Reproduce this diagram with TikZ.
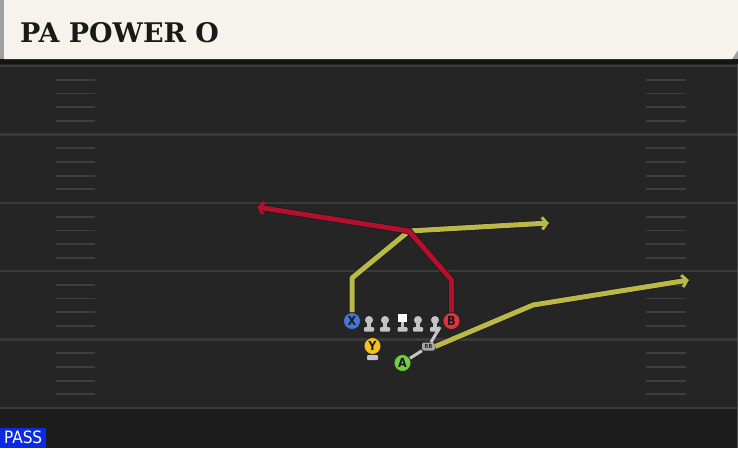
\documentclass[tikz,border=0pt]{standalone}
\usepackage{fontspec}
\usetikzlibrary{arrows.meta}
\newfontfamily\titlefont{DejaVu Serif}
\newfontfamily\labelfont{DejaVu Sans Condensed}
\definecolor{field}{HTML}{252525}
\definecolor{fieldlow}{HTML}{1D1D1D}
\definecolor{yardgray}{HTML}{3A3A3A}
\definecolor{hashgray}{HTML}{3E3E3E}
\definecolor{cream}{HTML}{F5F3EC}
\definecolor{mangray}{HTML}{C4C4C4}
\definecolor{redroute}{HTML}{B3102E}
\definecolor{yelroute}{HTML}{BBB84A}
\definecolor{xblue}{HTML}{4378D6}
\definecolor{bred}{HTML}{E3323F}
\definecolor{yyellow}{HTML}{F4C21F}
\definecolor{agreen}{HTML}{6FCF3F}
\definecolor{passblue}{HTML}{0B2BE3}
\begin{document}
\begin{tikzpicture}
[x=1pt, y=-1pt,
 yardline/.style={draw=yardgray, line width=2.5pt},
 hashmark/.style={draw=hashgray, line width=1.8pt},
 player/.style={circle, draw=black!85, line width=0.8pt, minimum size=17pt,
   inner sep=0pt, text=black!90, font=\labelfont\bfseries\fontsize{12.5}{12.5}\selectfont},
 olhead/.style={circle, fill=mangray, minimum size=8pt, inner sep=0pt},
 route/.style={line width=5pt, line join=bevel,
   -{Straight Barb[length=5pt, width=12pt, line width=3pt]},
   preaction={draw=black!90, line width=6.5pt, -}},
 block/.style={draw=mangray, line width=3pt}]
\useasboundingbox (0,0) rectangle (738,448);
% field
\fill[field] (0,0) rectangle (738,448);
\fill[fieldlow] (0,408) rectangle (738,448);
\foreach \y in {66,134.5,203,271,339.5,408}
  \draw[yardline] (0,\y) -- (738,\y);
\foreach \y in {66,134.5,203,271,339.5} {
  \foreach \k in {1,2,3,4} {
    \draw[hashmark] (56,\y+13.7*\k) -- (95,\y+13.7*\k);
    \draw[hashmark] (646,\y+13.7*\k) -- (686,\y+13.7*\k);
  }
}
\draw[draw=black!70, line width=1pt] (737.5,62) -- (737.5,448);
% header
\fill[black!92] (0,58) rectangle (738,63.5);
\fill[gray!75] (0,0) rectangle (738,59);
\fill[cream] (4,0) -- (738,0) -- (738,50) -- (732,59) -- (4,59) -- cycle;
\node[anchor=base west, inner sep=0pt, text=black!90,
  font=\titlefont\bfseries\fontsize{27}{27}\selectfont] (title) at (20,42) {PA POWER O};
% pass tag
\node[fill=passblue, text=white, anchor=south west, inner sep=0pt,
  minimum width=46pt, minimum height=20pt,
  font=\labelfont\fontsize{17}{17}\selectfont] (pass) at (0,448) {PASS};
% line
\foreach \x/\n in {369/lt,385/lg,418/rg,435/rt} {
  \fill[mangray] (\x-1.8,320) rectangle (\x+1.8,328);
  \fill[mangray, rounded corners=1pt] (\x-5,327) rectangle (\x+5,331.5);
  \node[olhead] (\n) at (\x,320) {};
}
\fill[mangray] (400.7,320) rectangle (404.3,328);
\fill[mangray, rounded corners=1pt] (397.5,327) rectangle (407.5,331.5);
\node[fill=white, minimum width=9pt, minimum height=8pt, inner sep=0pt] (c) at (402.5,318) {};
\fill[mangray] (371,352) rectangle (374,357);
\fill[mangray, rounded corners=1pt] (367,355) rectangle (378,360);
% players
\node[player, fill=xblue] (X) at (352,321) {X};
\node[player, fill=bred] (B) at (451.5,321) {B};
\node[player, fill=yyellow] (Y) at (372.5,346) {Y};
\node[player, fill=agreen] (A) at (402.5,363) {A};
\node[fill=gray!70, rounded corners=2pt, minimum width=13pt, minimum height=8pt,
  inner sep=0pt, text=black!85, font=\labelfont\bfseries\fontsize{5.5}{5.5}\selectfont] (RB) at (428.5,346.5) {RB};
% routes
\coordinate (apex) at (409,231);
\coordinate (bup) at (451.5,280);
\coordinate (bend) at (257,207);
\coordinate (xup) at (352,278);
\coordinate (xend) at (549,223);
\coordinate (rbknee) at (533,305);
\coordinate (rbend) at (689,280);
\coordinate (rbblock) at (440,327);
\draw[route, draw=yelroute] (X) -- (xup) -- (apex) -- (xend);
\draw[route, draw=redroute] (B) -- (bup) -- (apex) -- (bend);
\draw[route, draw=yelroute] (RB.east) -- (rbknee) -- (rbend);
\draw[block] (A) -- (RB);
\draw[block] (RB) -- (rbblock);
\end{tikzpicture}
\end{document}
